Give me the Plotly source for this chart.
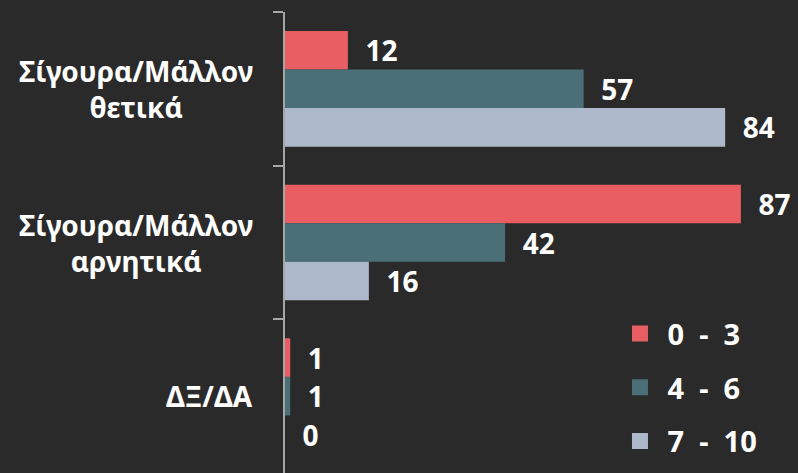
import plotly.graph_objects as go

# Données
categories = ["Σίγουρα/Μάλλον θετικά", "Σίγουρα/Μάλλον αρνητικά", "ΔΞ/ΔΑ"]
cat_labels = ["Σίγουρα/Μάλλον<br>θετικά", "Σίγουρα/Μάλλον<br>αρνητικά", "ΔΞ/ΔΑ"]
series_names = ["0 - 3", "4 - 6", "7 - 10"]
values_0_3 = [12, 87, 1]
values_4_6 = [57, 42, 1]
values_7_10 = [84, 16, 0]
colors = ["#E85E63", "#4A6F76", "#ADB9CB"]

BG = "#2B2A2B"
FONT = "Noto Sans, Open Sans, DejaVu Sans, sans-serif"

fig = go.Figure()

for name, vals, col in zip(series_names, [values_0_3, values_4_6, values_7_10], colors):
    fig.add_trace(go.Bar(
        y=categories,
        x=vals,
        orientation="h",
        name=name,
        marker=dict(color=col, line=dict(width=0)),
        text=vals,
        texttemplate="\u00a0\u00a0%{x}",
        textposition="outside",
        textfont=dict(color="white", size=28, family=FONT, weight="bold"),
        cliponaxis=False,
        showlegend=False,
    ))

# Légende avec de grands carrés
for name, col in zip(series_names, colors):
    fig.add_trace(go.Scatter(
        x=[None], y=[None],
        mode="markers",
        name="\u00a0" + name.replace(" ", "\u00a0\u00a0"),
        legendgroup=name,
        marker=dict(symbol="square", size=18, color=col),
    ))

# Libellés des catégories (bloc aligné à droite, lignes centrées)
for cat, lab in zip(categories, cat_labels):
    fig.add_annotation(
        x=-0.0585, xref="paper", y=cat, yref="y",
        text=lab, showarrow=False,
        xanchor="right", yanchor="middle", align="center",
        font=dict(color="white", size=28, family=FONT, weight="bold"),
    )

fig.update_layout(
    width=798, height=473,
    paper_bgcolor=BG, plot_bgcolor=BG,
    margin=dict(l=285, r=0, t=12, b=0),
    barmode="group",
    bargap=0.247,
    bargroupgap=0,
    legend=dict(
        x=0.653, xanchor="left",
        y=0.185, yanchor="middle",
        traceorder="grouped",
        tracegroupgap=13,
        font=dict(color="white", size=29, family=FONT, weight="bold"),
        bgcolor="rgba(0,0,0,0)",
    ),
    xaxis=dict(range=[0, 97.9], visible=False, showgrid=False, zeroline=False),
    yaxis=dict(
        autorange="reversed",
        showticklabels=False,
        showline=True, linecolor="#A6A6A6", linewidth=1.5,
        ticks="outside", tickson="boundaries", ticklen=10,
        tickcolor="#A6A6A6", tickwidth=1.5,
        showgrid=False, zeroline=False,
    ),
)

fig.write_html("out.html", config={"displayModeBar": False},
               post_script="document.body.style.margin='0';")
